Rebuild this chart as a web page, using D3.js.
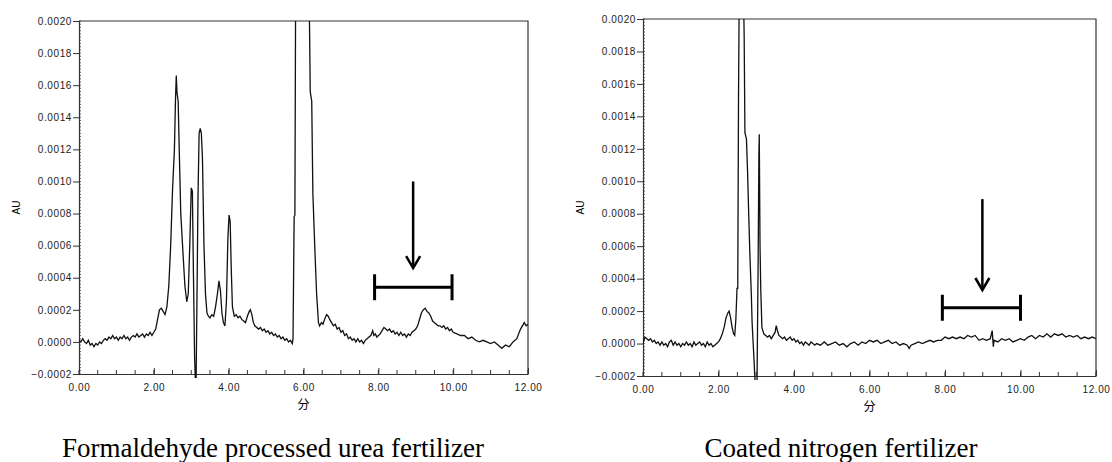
<!DOCTYPE html>
<html>
<head>
<meta charset="utf-8">
<script src="https://cdn.jsdelivr.net/npm/d3@7"></script>
<style>
  body { margin: 0; background: #fff; }
  svg { display: block; }
  .tick text { font-family: "Liberation Sans", Arial, sans-serif; font-size: 10px; letter-spacing: 0.6px; fill: #222; }
  .caption { font-family: "Liberation Serif", "Times New Roman", serif; font-size: 27px; fill: #000; }
</style>
</head>
<body>
<div id="chart"></div>
<script>
// axis settings
const timeTicks = [0, 2, 4, 6, 8, 10, 12];
const auTicks = [-0.0002, 0, 0.0002, 0.0004, 0.0006, 0.0008, 0.0010, 0.0012, 0.0014, 0.0016, 0.0018, 0.0020];
const captions = ["Formaldehyde processed urea fertilizer", "Coated nitrogen fertilizer"];

// formaldehyde processed urea fertilizer trace [min, AU]
const ureaTrace = [
  [0.00, 0.00001], [0.05, 0.00000], [0.10, 0.00002], [0.15, 0.00000], [0.20, -0.00001], [0.25, 0.00001],
  [0.30, -0.00002], [0.35, -0.00001], [0.40, -0.00003], [0.45, -0.00001], [0.50, -0.00002], [0.55, 0.00000],
  [0.60, -0.00001], [0.65, 0.00001], [0.70, 0.00002], [0.75, 0.00001], [0.80, 0.00003], [0.85, 0.00002],
  [0.90, 0.00004], [0.95, 0.00002], [1.00, 0.00003], [1.05, 0.00001], [1.10, 0.00003], [1.15, 0.00002],
  [1.20, 0.00004], [1.25, 0.00002], [1.30, 0.00003], [1.35, 0.00001], [1.40, 0.00003], [1.45, 0.00004],
  [1.50, 0.00003], [1.55, 0.00005], [1.60, 0.00003], [1.65, 0.00004], [1.70, 0.00005], [1.75, 0.00003],
  [1.80, 0.00005], [1.85, 0.00004], [1.90, 0.00006], [1.95, 0.00004], [2.00, 0.00006], [2.05, 0.00008],
  [2.10, 0.00014], [2.15, 0.00020], [2.20, 0.00021], [2.25, 0.00019], [2.30, 0.00017], [2.35, 0.00022],
  [2.40, 0.00035], [2.45, 0.00060], [2.50, 0.00095], [2.55, 0.00120], [2.58, 0.00152], [2.60, 0.00166],
  [2.62, 0.00155], [2.65, 0.00150], [2.68, 0.00119], [2.72, 0.00080], [2.78, 0.00055], [2.83, 0.00035],
  [2.88, 0.00025], [2.92, 0.00030], [2.96, 0.00060], [3.00, 0.00096], [3.03, 0.00094], [3.06, 0.00040],
  [3.09, -0.00010], [3.11, -0.00024], [3.13, -0.00024], [3.15, 0.00020], [3.18, 0.00090], [3.21, 0.00130],
  [3.24, 0.00133], [3.27, 0.00130], [3.30, 0.00114], [3.34, 0.00060], [3.38, 0.00030], [3.42, 0.00018],
  [3.46, 0.00016], [3.50, 0.00015], [3.55, 0.00017], [3.60, 0.00016], [3.65, 0.00022], [3.70, 0.00030],
  [3.74, 0.00038], [3.78, 0.00032], [3.82, 0.00018], [3.86, 0.00012], [3.90, 0.00010], [3.94, 0.00025],
  [3.98, 0.00065], [4.01, 0.00079], [4.04, 0.00075], [4.07, 0.00045], [4.10, 0.00022], [4.15, 0.00016],
  [4.20, 0.00017], [4.25, 0.00015], [4.30, 0.00016], [4.35, 0.00014], [4.40, 0.00013], [4.45, 0.00012],
  [4.50, 0.00016], [4.55, 0.00019], [4.58, 0.00020], [4.62, 0.00017], [4.66, 0.00012], [4.70, 0.00010],
  [4.75, 0.00009], [4.80, 0.00008], [4.85, 0.00009], [4.90, 0.00007], [4.95, 0.00008], [5.00, 0.00006],
  [5.05, 0.00007], [5.10, 0.00005], [5.15, 0.00006], [5.20, 0.00004], [5.25, 0.00005], [5.30, 0.00003],
  [5.35, 0.00004], [5.40, 0.00002], [5.45, 0.00003], [5.50, 0.00001], [5.55, 0.00002], [5.60, 0.00000],
  [5.65, 0.00001], [5.70, -0.00001], [5.72, 0.00002], [5.75, 0.00078], [5.77, 0.00079], [5.79, 0.00220],
  [6.15, 0.00220], [6.18, 0.00156], [6.22, 0.00150], [6.25, 0.00093], [6.30, 0.00060], [6.35, 0.00030],
  [6.40, 0.00012], [6.43, 0.00010], [6.48, 0.00012], [6.52, 0.00011], [6.58, 0.00015], [6.62, 0.00017],
  [6.66, 0.00016], [6.70, 0.00014], [6.75, 0.00012], [6.80, 0.00010], [6.85, 0.00011], [6.90, 0.00008],
  [6.95, 0.00009], [7.00, 0.00006], [7.05, 0.00007], [7.10, 0.00004], [7.15, 0.00005], [7.20, 0.00002],
  [7.25, 0.00003], [7.30, 0.00001], [7.35, 0.00002], [7.40, 0.00000], [7.45, 0.00002], [7.50, 0.00000],
  [7.55, 0.00001], [7.60, -0.00001], [7.65, 0.00001], [7.70, 0.00002], [7.75, 0.00003], [7.80, 0.00004],
  [7.85, 0.00007], [7.88, 0.00004], [7.92, 0.00005], [7.96, 0.00003], [8.00, 0.00004], [8.05, 0.00005],
  [8.10, 0.00007], [8.15, 0.00009], [8.20, 0.00008], [8.25, 0.00007], [8.30, 0.00008], [8.35, 0.00006],
  [8.40, 0.00007], [8.45, 0.00005], [8.50, 0.00006], [8.55, 0.00004], [8.60, 0.00006], [8.65, 0.00004],
  [8.70, 0.00005], [8.75, 0.00003], [8.80, 0.00005], [8.85, 0.00004], [8.90, 0.00006], [8.95, 0.00007],
  [9.00, 0.00008], [9.05, 0.00010], [9.10, 0.00014], [9.15, 0.00018], [9.20, 0.00020], [9.25, 0.00021],
  [9.30, 0.00019], [9.35, 0.00018], [9.40, 0.00016], [9.45, 0.00013], [9.50, 0.00012], [9.55, 0.00011],
  [9.60, 0.00010], [9.65, 0.00010], [9.70, 0.00009], [9.75, 0.00010], [9.80, 0.00008], [9.85, 0.00009],
  [9.90, 0.00007], [9.95, 0.00008], [10.00, 0.00006], [10.10, 0.00005], [10.20, 0.00004], [10.30, 0.00004],
  [10.40, 0.00002], [10.50, 0.00003], [10.60, 0.00001], [10.70, 0.00000], [10.80, 0.00001], [10.90, 0.00000],
  [11.00, -0.00001], [11.10, 0.00000], [11.20, -0.00002], [11.30, -0.00004], [11.40, -0.00002], [11.50, -0.00003],
  [11.60, 0.00000], [11.70, 0.00002], [11.80, 0.00008], [11.90, 0.00012], [11.95, 0.00010], [12.00, 0.00011]
];

// coated nitrogen fertilizer trace [min, AU]
const coatedTrace = [
  [0.00, 0.00000], [0.05, 0.00004], [0.10, 0.00003], [0.15, 0.00002], [0.20, 0.00003], [0.25, 0.00001],
  [0.30, 0.00002], [0.35, 0.00000], [0.40, 0.00001], [0.45, -0.00001], [0.50, 0.00001], [0.55, -0.00001],
  [0.60, 0.00000], [0.65, -0.00002], [0.70, 0.00001], [0.75, 0.00002], [0.80, -0.00001], [0.85, 0.00001],
  [0.90, -0.00001], [0.95, 0.00000], [1.00, -0.00002], [1.05, 0.00000], [1.10, -0.00001], [1.15, 0.00001],
  [1.20, -0.00001], [1.25, 0.00000], [1.30, -0.00002], [1.35, 0.00001], [1.40, -0.00001], [1.45, 0.00000],
  [1.50, 0.00001], [1.55, -0.00001], [1.60, 0.00000], [1.65, -0.00002], [1.70, 0.00001], [1.75, -0.00001],
  [1.80, 0.00000], [1.85, -0.00002], [1.90, -0.00001], [1.95, 0.00000], [2.00, 0.00001], [2.05, 0.00003],
  [2.10, 0.00006], [2.15, 0.00010], [2.20, 0.00016], [2.25, 0.00019], [2.28, 0.00020], [2.32, 0.00016],
  [2.36, 0.00010], [2.40, 0.00006], [2.43, 0.00005], [2.46, 0.00015], [2.49, 0.00034], [2.51, 0.00034],
  [2.53, 0.00150], [2.55, 0.00220], [2.66, 0.00220], [2.68, 0.00189], [2.70, 0.00130], [2.74, 0.00126],
  [2.77, 0.00106], [2.80, 0.00080], [2.83, 0.00056], [2.87, 0.00030], [2.89, 0.00013], [2.93, -0.00005],
  [2.97, -0.00024], [3.02, -0.00024], [3.05, 0.00050], [3.07, 0.00116], [3.08, 0.00129], [3.10, 0.00060],
  [3.12, 0.00033], [3.15, 0.00010], [3.20, 0.00006], [3.25, 0.00005], [3.30, 0.00004], [3.35, 0.00005],
  [3.40, 0.00003], [3.45, 0.00005], [3.50, 0.00007], [3.53, 0.00011], [3.56, 0.00008], [3.60, 0.00005],
  [3.65, 0.00004], [3.70, 0.00003], [3.75, 0.00004], [3.80, 0.00002], [3.85, 0.00003], [3.90, 0.00004],
  [3.95, 0.00002], [4.00, 0.00003], [4.05, 0.00001], [4.10, 0.00002], [4.15, 0.00000], [4.20, 0.00001],
  [4.25, -0.00001], [4.30, 0.00001], [4.35, 0.00000], [4.40, -0.00001], [4.45, 0.00001], [4.50, 0.00000],
  [4.55, -0.00001], [4.60, 0.00000], [4.70, -0.00001], [4.80, 0.00001], [4.90, -0.00001], [5.00, 0.00000],
  [5.10, 0.00001], [5.20, -0.00001], [5.30, 0.00000], [5.40, -0.00002], [5.50, 0.00000], [5.60, 0.00001],
  [5.70, -0.00001], [5.80, 0.00001], [5.90, 0.00000], [6.00, 0.00002], [6.10, 0.00001], [6.20, 0.00002],
  [6.30, 0.00000], [6.40, 0.00001], [6.50, 0.00002], [6.60, 0.00000], [6.70, 0.00001], [6.80, -0.00001],
  [6.90, 0.00000], [7.00, -0.00001], [7.05, -0.00003], [7.10, -0.00001], [7.20, 0.00000], [7.30, 0.00001],
  [7.40, 0.00000], [7.50, 0.00001], [7.60, 0.00002], [7.70, 0.00001], [7.80, 0.00002], [7.90, 0.00002],
  [8.00, 0.00004], [8.10, 0.00003], [8.20, 0.00004], [8.30, 0.00003], [8.40, 0.00004], [8.50, 0.00003],
  [8.60, 0.00005], [8.70, 0.00004], [8.80, 0.00005], [8.90, 0.00002], [9.00, 0.00003], [9.10, 0.00002],
  [9.20, 0.00003], [9.25, 0.00008], [9.28, -0.00002], [9.30, 0.00002], [9.40, 0.00001], [9.50, 0.00003],
  [9.60, 0.00002], [9.70, 0.00003], [9.80, 0.00001], [9.90, 0.00002], [10.00, 0.00003], [10.10, 0.00002],
  [10.20, 0.00004], [10.30, 0.00005], [10.40, 0.00003], [10.50, 0.00005], [10.60, 0.00004], [10.70, 0.00006],
  [10.80, 0.00004], [10.90, 0.00006], [11.00, 0.00005], [11.10, 0.00006], [11.20, 0.00004], [11.30, 0.00005],
  [11.40, 0.00004], [11.50, 0.00005], [11.60, 0.00003], [11.70, 0.00004], [11.80, 0.00003], [11.90, 0.00004],
  [12.00, 0.00003]
];

// arrow + bracket marking the 8-10 min window: [arrow time, arrow top AU, arrow tip AU, bracket start, bracket end, bracket AU]
const ureaMark = [8.93, 0.00100, 0.00046, 7.9, 9.97, 0.00034];
const coatedMark = [8.99, 0.00089, 0.00033, 7.93, 10.0, 0.00022];

const W = 1112, H = 462;
const svg = d3.select("#chart").append("svg").attr("width", W).attr("height", H);

function drawPanel(opt) {
  const x = d3.scaleLinear().domain([0, 12]).range([opt.left, opt.right]);
  const y = d3.scaleLinear().domain([-0.0002, 0.0020]).range([opt.bottom, opt.top]);
  const g = svg.append("g");

  // clip the trace to the frame (peaks run off the top)
  g.append("clipPath").attr("id", opt.id)
    .append("rect")
    .attr("x", opt.left).attr("y", opt.top)
    .attr("width", opt.right - opt.left).attr("height", opt.bottom - opt.top + 4);

  // minor ticks
  g.append("g").selectAll("line")
    .data(d3.range(-0.0002, 0.00201, 0.00002))
    .enter().append("line")
    .attr("x1", opt.left).attr("x2", opt.left + 2)
    .attr("y1", d => y(d)).attr("y2", d => y(d))
    .attr("stroke", "#444").attr("stroke-width", 0.8);
  g.append("g").selectAll("line")
    .data(d3.range(0, 12.01, 0.5))
    .enter().append("line")
    .attr("x1", d => x(d)).attr("x2", d => x(d))
    .attr("y1", opt.bottom).attr("y2", opt.bottom - 4)
    .attr("stroke", "#333").attr("stroke-width", 1);

  const yAxis = g.append("g")
    .attr("transform", "translate(" + opt.left + ",0)")
    .call(d3.axisLeft(y).tickValues(auTicks).tickFormat(d3.format(".4f")).tickSize(6).tickPadding(1));
  const xAxis = g.append("g")
    .attr("transform", "translate(0," + opt.bottom + ")")
    .call(d3.axisBottom(x).tickValues(timeTicks).tickFormat(d3.format(".2f")).tickSizeInner(-6).tickSizeOuter(0).tickPadding(10));
  [xAxis, yAxis].forEach(a => {
    a.select(".domain").attr("stroke", "#333").attr("stroke-width", 1.2);
    a.selectAll(".tick line").attr("stroke", "#333");
  });

  // frame top + right
  g.append("path")
    .attr("d", "M" + opt.left + "," + opt.top + "H" + opt.right + "V" + opt.bottom)
    .attr("fill", "none").attr("stroke", "#333").attr("stroke-width", 1.2);

  // trace
  const line = d3.line().x(d => x(d[0])).y(d => y(d[1]));
  g.append("path")
    .datum(opt.trace)
    .attr("clip-path", "url(#" + opt.id + ")")
    .attr("d", line)
    .attr("fill", "none").attr("stroke", "#111").attr("stroke-width", 1.3);

  // axis titles
  g.append("text")
    .attr("transform", "translate(" + (opt.left - 59) + "," + ((opt.top + opt.bottom) / 2 + 10) + ") rotate(-90)")
    .attr("text-anchor", "middle")
    .attr("font-family", "Liberation Sans, Arial, sans-serif").attr("font-size", 10)
    .text("AU");
  g.append("text")
    .attr("x", x(6)).attr("y", opt.bottom + 35)
    .attr("text-anchor", "middle")
    .attr("font-family", "Noto Sans CJK JP, sans-serif").attr("font-size", 12)
    .text("分");

  // arrow and bracket
  const m = opt.mark;
  const ax = x(m[0]), ay0 = y(m[1]), ay1 = y(m[2]);
  g.append("line").attr("x1", ax).attr("x2", ax).attr("y1", ay0).attr("y2", ay1 - 1)
    .attr("stroke", "#000").attr("stroke-width", 2.5);
  g.append("path")
    .attr("d", "M" + (ax - 7) + "," + (ay1 - 12) + "L" + ax + "," + ay1 + "L" + (ax + 7) + "," + (ay1 - 12))
    .attr("fill", "none").attr("stroke", "#000").attr("stroke-width", 2.5);
  const by = y(m[5]), bx0 = x(m[3]), bx1 = x(m[4]);
  g.append("path")
    .attr("d", "M" + bx0 + "," + by + "H" + bx1 + "M" + bx0 + "," + (by - 13) + "V" + (by + 13) + "M" + bx1 + "," + (by - 13) + "V" + (by + 13))
    .attr("fill", "none").attr("stroke", "#000").attr("stroke-width", 3);

  svg.append("text").attr("class", "caption")
    .attr("x", opt.capX).attr("y", 457)
    .attr("text-anchor", "middle")
    .text(opt.caption);
}

drawPanel({ id: "clipA", left: 79, right: 528, top: 21, bottom: 374, trace: ureaTrace, mark: ureaMark, caption: captions[0], capX: 273 });
drawPanel({ id: "clipB", left: 643, right: 1096, top: 19, bottom: 376, trace: coatedTrace, mark: coatedMark, caption: captions[1], capX: 841 });
</script>
</body>
</html>
